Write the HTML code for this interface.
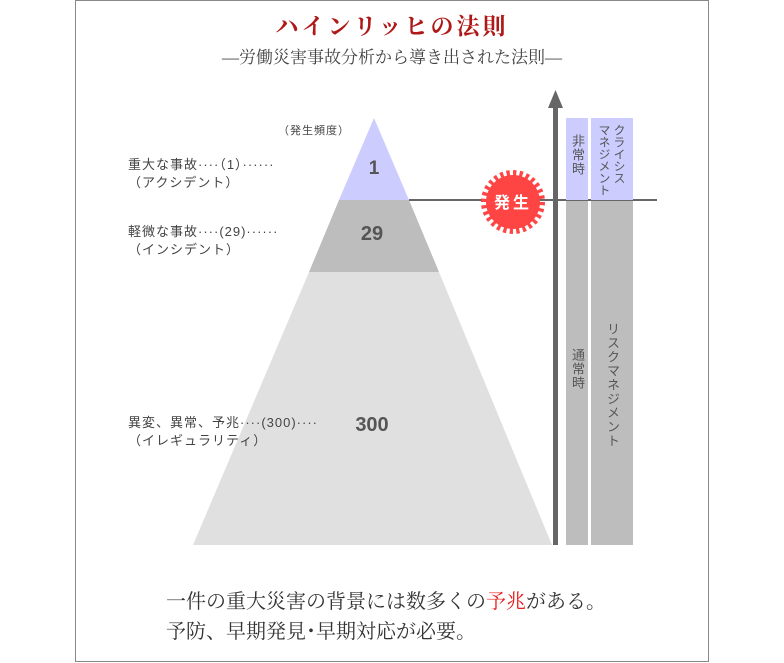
<!DOCTYPE html>
<html><head><meta charset="utf-8"><style>
body{margin:0;width:784px;height:663px;background:#fff;position:relative;overflow:hidden;font-family:"Liberation Sans","Noto Sans CJK JP",sans-serif}
.a{position:absolute;white-space:nowrap}
.lbl{font-size:13px;color:#444;letter-spacing:1px;line-height:18px}
.v{writing-mode:vertical-rl;font-size:13px;color:#555;line-height:16px;letter-spacing:1px}
.serif{font-family:"Liberation Serif","Noto Serif CJK SC",serif}
</style></head><body>
<div class="a" style="left:75px;top:0;width:632px;height:660px;border:1px solid #888"></div>
<svg class="a" style="left:0;top:0" width="784" height="663">
<polygon points="193,545 309,272 439,272 552,545" fill="#e0e0e0"/>
<polygon points="309,272 339,200 409,200 439,272" fill="#bdbdbd"/>
<polygon points="339,200 374,118 409,200" fill="#ccccff"/>
<line x1="409" y1="200" x2="657" y2="200" stroke="#666" stroke-width="2"/>
<rect x="566" y="118" width="22" height="82" fill="#ccccff"/>
<rect x="591" y="118" width="42" height="82" fill="#ccccff"/>
<rect x="566" y="201" width="22" height="344" fill="#bdbdbd"/>
<rect x="591" y="201" width="42" height="344" fill="#bdbdbd"/>
<rect x="553" y="104" width="5" height="441" fill="#666"/>
<polygon points="555.5,90 548,108 563,108" fill="#666"/>
<circle cx="513" cy="202" r="27" fill="#ff4444"/>
<circle cx="513" cy="202" r="29" fill="none" stroke="#ff4444" stroke-width="6" stroke-dasharray="3.25 3.25"/>
<text x="513" y="208" font-size="16" font-weight="bold" fill="#fff" text-anchor="middle" letter-spacing="3" font-family="Noto Sans CJK JP,sans-serif">発生</text>
<text x="374" y="174" font-size="19" font-weight="bold" fill="#555" text-anchor="middle" font-family="Liberation Sans,sans-serif">1</text>
<text x="372" y="240" font-size="20" font-weight="bold" fill="#555" text-anchor="middle" font-family="Liberation Sans,sans-serif">29</text>
<text x="372" y="431" font-size="20" font-weight="bold" fill="#555" text-anchor="middle" font-family="Liberation Sans,sans-serif">300</text>
</svg>
<div class="a serif" style="left:0;width:784px;text-align:center;top:8px;font-size:23px;color:#b01818;letter-spacing:3px;font-weight:bold">ハインリッヒの法則</div>
<div class="a serif" style="left:0;width:784px;text-align:center;top:43px;font-size:17px;color:#444">―労働災害事故分析から導き出された法則―</div>
<div class="a lbl" style="left:278px;top:122px;font-size:11px">（発生頻度）</div>
<div class="a lbl" style="left:128px;top:156px">重大な事故····（1）······<br>（アクシデント）</div>
<div class="a lbl" style="left:128px;top:223px">軽微な事故····(29)······<br>（インシデント）</div>
<div class="a lbl" style="left:128px;top:414px">異変、異常、予兆····(300)····<br>（イレギュラリティ）</div>
<div class="a v" style="left:569px;top:134px">非常時</div>
<div class="a v" style="left:596px;top:124px;font-size:12px;letter-spacing:0;line-height:15px">クライシス<br>マネジメント</div>
<div class="a v" style="left:569px;top:348px">通常時</div>
<div class="a v" style="left:604px;top:322px">リスクマネジメント</div>
<div class="a serif" style="left:166px;top:587px;font-size:20px;color:#333;line-height:30px">一件の重大災害の背景には数多くの<span style="color:#e62020">予兆</span>がある。<br>予防、早期発見･早期対応が必要。</div>
</body></html>
